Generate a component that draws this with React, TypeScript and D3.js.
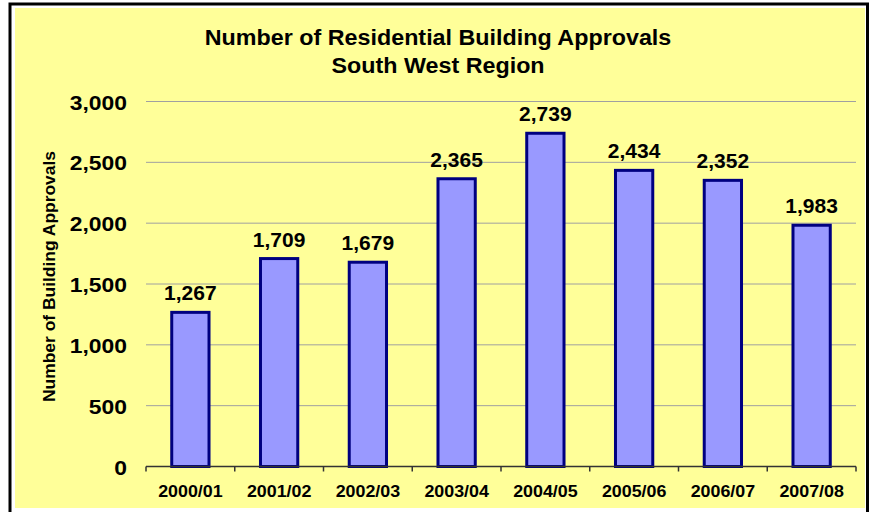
import React from "react";
import * as d3 from "d3";

const categories = ["2000/01", "2001/02", "2002/03", "2003/04", "2004/05", "2005/06", "2006/07", "2007/08"];
const approvals = [1267, 1709, 1679, 2365, 2739, 2434, 2352, 1983];
const yTicks = [0, 500, 1000, 1500, 2000, 2500, 3000];
const titleLines = ["Number of Residential Building Approvals", "South West Region"];
const yAxisTitle = "Number of Building Approvals";

function T(props: { x: number; y: number; sx: number; size: number; anchor: string; rot?: number; children: React.ReactNode; baseline?: string }) {
  const { x, y, sx, size, anchor, rot = 0, children, baseline } = props;
  return (
    <text
      transform={`translate(${x},${y}) rotate(${rot}) scale(${sx},1)`}
      textAnchor={anchor}
      dominantBaseline={baseline}
      fontSize={size}
      fontWeight="bold"
      fill="#000"
    >
      {children}
    </text>
  );
}

export default function App() {
  const W = 872, H = 512;
  const left = 146, right = 856, top = 101.5, bottom = 466.5;
  const x = d3.scaleBand<string>().domain(categories).range([left, right]).paddingInner(0.58).paddingOuter(0.29);
  const y = d3.scaleLinear().domain([0, 3000]).range([bottom, top]);
  const fmt = d3.format(",");
  const font = "Arial, 'Liberation Sans', Helvetica, sans-serif";
  const step = (right - left) / categories.length;

  return (
    <svg width={W} height={H} style={{ position: "absolute", left: 0, top: 0 }} fontFamily={font}>
      <rect x={0} y={0} width={W} height={H} fill="#fff" />
      <rect x={10} y={4} width={857.5} height={600} fill="#fff" stroke="#000" strokeWidth={3} />
      <rect x={15} y={8} width={850} height={500} fill="#FFFF99" />
      {titleLines.map((t, i) => (
        <T key={t} x={438} y={45 + i * 28} sx={1.06} size={22} anchor="middle">{t}</T>
      ))}
      {yTicks.filter(v => v > 0).map(v => (
        <line key={"g" + v} x1={left} x2={right} y1={y(v)} y2={y(v)} stroke="#A0A0A0" strokeWidth={1} />
      ))}
      {yTicks.map(v => (
        <T key={"yl" + v} x={127} y={y(v) + 8} sx={1.09} size={21} anchor="end">{fmt(v)}</T>
      ))}
      <T x={50} y={(155 + 398) / 2} rot={-90} sx={1.09} size={16} anchor="middle" baseline="central">{yAxisTitle}</T>
      {approvals.map((v, i) => {
        const c = categories[i];
        const bx = x(c)!;
        return (
          <g key={c}>
            <rect x={bx} y={y(v)} width={x.bandwidth()} height={bottom - y(v)} fill="#9999FF" stroke="#000080" strokeWidth={3} />
            <T x={bx + x.bandwidth() / 2} y={y(v) - 12} sx={1.05} size={20} anchor="middle">{fmt(v)}</T>
          </g>
        );
      })}
      <line x1={left} x2={right} y1={bottom} y2={bottom} stroke="#333" strokeWidth={1.5} />
      {d3.range(categories.length + 1).map(i => (
        <line key={"t" + i} x1={left + i * step} x2={left + i * step} y1={bottom} y2={bottom + 5} stroke="#333" strokeWidth={1.5} />
      ))}
      {categories.map(c => (
        <T key={"xl" + c} x={x(c)! + x.bandwidth() / 2} y={497} sx={1.05} size={17} anchor="middle">{c}</T>
      ))}
    </svg>
  );
}
